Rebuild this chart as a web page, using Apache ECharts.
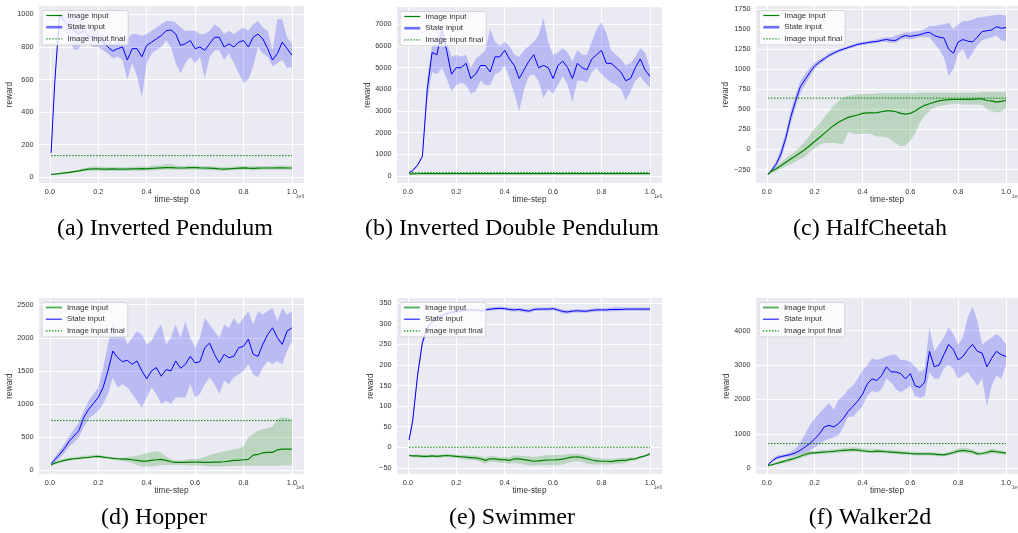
<!DOCTYPE html>
<html><head><meta charset="utf-8">
<script src="https://cdn.jsdelivr.net/npm/echarts@6/dist/echarts.min.js"></script>
<style>html,body{margin:0;padding:0;background:#fff}#c{width:1018px;height:533px}</style>
</head><body><div id="c"></div>
<script>
// time-steps (x1e6)
const T = [0.005,0.02,0.04,0.06,0.08,0.10,0.12,0.14,0.16,0.18,
 0.20,0.22,0.24,0.26,0.28,0.30,0.32,0.34,0.36,0.38,
 0.40,0.42,0.44,0.46,0.48,0.50,0.52,0.54,0.56,0.58,
 0.60,0.62,0.64,0.66,0.68,0.70,0.72,0.74,0.76,0.78,
 0.80,0.82,0.84,0.86,0.88,0.90,0.92,0.94,0.96,0.98,
 1.00];
const X_TICKS = [0, 0.2, 0.4, 0.6, 0.8, 1.0];
const TITLES = ['(a) Inverted Pendulum','(b) Inverted Double Pendulum','(c) HalfCheetah','(d) Hopper','(e) Swimmer','(f) Walker2d'];
const LEGEND_NAMES = ['Image input','State input','Image input final'];

// (a) Inverted Pendulum
const A_S = [150,580,1000,960,930,900,880,900,870,860,
 850,830,800,775,790,800,720,790,790,740,
 810,830,850,870,900,905,880,810,820,840,
 790,800,780,820,860,860,800,820,800,830,
 840,800,860,880,850,790,720,760,830,790,
 750];
const A_S_LO = [150,560,980,900,850,780,790,850,820,800,
 800,780,760,730,740,720,600,700,620,490,
 700,760,780,800,840,800,700,640,700,740,
 700,740,610,740,780,780,720,760,700,640,
 580,600,680,800,760,740,680,700,720,670,
 680];
const A_S_HI = [150,600,1000,1000,1000,1000,980,950,930,920,
 900,880,850,820,840,870,850,880,880,870,
 880,900,920,940,960,960,950,920,900,900,
 900,880,880,900,940,920,880,900,880,900,
 920,900,940,960,920,900,780,970,970,860,
 820];
const A_I = [18,20,23,27,30,35,40,46,50,52,
 52,50,50,52,50,50,50,52,52,53,
 52,55,56,58,60,60,58,57,58,60,
 60,58,57,56,55,52,50,52,54,56,
 58,56,55,56,57,57,57,58,58,57,
 57];
const A_I_LO = [15,16,18,21,24,28,32,36,38,40,
 40,38,38,40,38,38,38,40,40,40,
 40,42,44,46,48,48,47,46,46,48,
 48,46,45,44,44,42,40,42,44,45,
 46,45,44,45,46,46,46,47,47,46,
 46];
const A_I_HI = [21,24,28,33,37,42,48,56,62,66,
 66,64,62,64,62,62,62,64,66,68,
 66,70,72,76,80,78,74,70,70,72,
 72,70,68,68,66,64,62,64,66,68,
 70,68,68,68,70,70,70,72,72,70,
 70];
const A_FINAL = 133;
const A_YTICKS = [0,200,400,600,800,1000];

// (b) Inverted Double Pendulum
const B_S = [150,250,500,900,4000,5700,5600,6700,5800,4700,
 5000,5000,5200,4500,4700,5100,5100,4800,5500,5500,
 5800,5400,5100,4500,4900,5300,5600,5000,5100,5000,
 4500,5100,5300,5000,4500,5200,5000,4900,5400,5600,
 5800,5200,5200,5000,4800,4400,4500,5000,5400,4900,
 4600];
const B_S_LO = [100,200,450,850,3500,4800,4700,5000,4500,3900,
 4200,4300,4200,3800,3900,4400,4200,4200,4700,4800,
 5100,4500,3800,3000,4000,4600,4700,4400,3600,4000,
 3800,4200,4600,4200,3400,4400,4400,4300,4800,5000,
 4700,4500,4300,4200,4000,3500,3900,4400,4600,4300,
 4100];
const B_S_HI = [200,300,550,1000,4500,6000,6400,7000,6200,5500,
 5600,5500,5600,5000,5400,5600,5800,6800,6200,6000,
 6200,6000,5600,5500,5800,6000,6200,6500,7300,6200,
 5600,5700,5900,5700,5300,5800,5600,5600,6200,6800,
 7100,6600,5800,5600,5400,5100,5200,5500,5900,5700,
 5000];
const B_I = [100,102,104,106,108,108,110,110,110,108,
 110,110,112,110,110,108,110,110,112,110,
 110,110,108,110,110,110,112,110,110,108,
 110,110,110,112,110,110,110,108,110,110,
 112,110,110,110,108,110,110,110,112,110,
 110];
const B_I_LO = [80,80,82,84,85,85,86,86,86,85,
 86,86,88,86,86,85,86,86,88,86,
 86,86,85,86,86,86,88,86,86,85,
 86,86,86,88,86,86,86,85,86,86,
 88,86,86,86,85,86,86,86,88,86,
 86];
const B_I_HI = [120,125,130,135,140,140,142,142,142,140,
 142,142,144,142,142,140,142,142,144,142,
 142,142,140,142,142,142,144,142,142,140,
 142,142,142,144,142,142,142,140,142,142,
 144,142,142,142,140,142,142,142,144,142,
 142];
const B_FINAL = 155;
const B_YTICKS = [0,1000,2000,3000,4000,5000,6000,7000];

// (c) HalfCheetah
const C_S = [-310,-260,-180,-50,150,400,600,780,870,960,
 1040,1090,1130,1170,1200,1230,1250,1270,1290,1310,
 1320,1330,1340,1345,1360,1370,1360,1360,1400,1420,
 1410,1420,1430,1450,1460,1420,1400,1390,1250,1200,
 1340,1370,1350,1340,1400,1470,1480,1490,1530,1510,
 1520];
const C_S_LO = [-320,-280,-220,-110,80,320,520,700,800,900,
 1000,1060,1100,1150,1180,1210,1230,1250,1270,1290,
 1300,1310,1320,1330,1340,1340,1330,1330,1370,1380,
 1370,1390,1400,1400,1400,1320,1250,1150,920,1000,
 1200,1250,1120,1200,1300,1360,1380,1400,1420,1360,
 1350];
const C_S_HI = [-300,-240,-140,20,220,480,680,850,940,1020,
 1080,1120,1160,1200,1230,1250,1270,1290,1310,1330,
 1345,1350,1360,1370,1390,1400,1400,1420,1440,1460,
 1460,1470,1480,1500,1540,1540,1550,1560,1580,1500,
 1560,1600,1600,1620,1640,1650,1660,1670,1680,1680,
 1670];
const C_I = [-310,-270,-240,-200,-160,-120,-80,-40,0,50,
 100,150,200,250,300,340,370,400,415,430,
 450,455,455,460,470,480,480,470,450,440,
 450,480,520,550,570,590,605,615,620,625,
 625,625,625,625,630,630,610,605,590,600,
 610];
const C_I_LO = [-320,-290,-270,-240,-210,-180,-150,-120,-90,-30,
 10,60,80,80,80,70,70,220,200,190,
 200,200,190,160,160,150,120,70,40,50,
 110,200,330,420,480,520,540,550,560,570,
 570,560,560,560,560,550,500,480,460,470,
 520];
const C_I_HI = [-300,-250,-210,-160,-110,-70,-20,40,100,180,
 260,320,400,470,550,600,650,670,680,690,
 690,690,690,700,700,700,700,700,700,700,
 700,700,710,710,710,710,710,710,710,710,
 710,710,710,710,710,720,720,720,720,720,
 720];
const C_FINAL = 640;
const C_YTICKS = [-250,0,250,500,750,1000,1250,1500,1750];

// (d) Hopper
const D_S = [100,160,240,330,440,520,600,800,920,1010,
 1100,1250,1500,1800,1700,1640,1660,1600,1650,1500,
 1380,1500,1550,1420,1520,1500,1650,1540,1600,1720,
 1620,1640,1850,1920,1750,1620,1750,1700,1720,1850,
 1870,1980,1750,1720,1900,2050,2150,2000,1900,2100,
 2150];
const D_S_LO = [90,120,180,260,360,420,500,650,780,840,
 900,1000,1150,1400,1250,1300,1250,1150,1050,950,
 1100,1250,1150,1000,1050,1000,1100,1100,1100,1300,
 1100,1150,1300,1400,1300,1150,1350,1300,1400,1450,
 1500,1600,1450,1400,1550,1650,1600,1650,1600,1800,
 1950];
const D_S_HI = [110,200,300,400,520,620,730,900,1050,1150,
 1250,1550,1900,2250,2000,2100,1900,2000,2100,2050,
 1900,1950,2100,2200,1900,2000,2200,2000,2250,2000,
 1850,2000,2300,2200,2100,2000,2200,2150,2300,2200,
 2300,2400,2200,2400,2350,2400,2450,2250,2450,2350,
 2400];
const D_I = [80,110,130,150,165,175,180,190,195,205,
 210,200,190,180,175,170,170,160,150,140,
 140,150,160,165,150,130,120,120,120,125,
 125,125,120,120,125,125,130,140,150,150,
 160,165,230,240,265,270,270,310,320,320,
 320];
const D_I_LO = [70,90,110,130,145,155,165,170,180,190,
 190,180,170,160,150,140,130,110,80,60,
 60,60,70,80,80,80,80,80,80,75,
 75,75,70,60,60,60,65,65,65,70,
 70,70,70,70,70,70,70,70,75,75,
 80];
const D_I_HI = [90,130,160,175,190,200,210,220,225,235,
 230,220,210,200,195,190,200,210,220,240,
 260,280,290,270,210,170,150,150,160,170,
 170,180,200,230,250,270,290,300,320,330,
 360,500,550,600,620,640,660,770,800,790,
 780];
const D_FINAL = 750;
const D_YTICKS = [0,500,1000,1500,2000,2500];

// (e) Swimmer
const E_S = [18,65,175,255,290,305,315,320,325,328,
 330,332,333,334,334,333,334,336,337,338,
 337,335,334,335,333,331,335,336,336,336,
 337,334,330,329,331,332,331,331,333,334,
 334,334,335,335,335,336,336,336,336,336,
 336];
const E_S_LO = [15,55,165,245,283,299,310,316,321,324,
 326,328,329,330,330,329,330,332,333,334,
 333,331,330,331,328,327,331,332,332,332,
 333,330,325,325,327,328,327,327,329,330,
 330,330,331,331,331,332,332,332,332,332,
 332];
const E_S_HI = [21,75,185,265,297,311,320,324,329,332,
 334,336,337,338,338,337,338,340,341,342,
 341,339,338,339,337,335,339,340,340,340,
 341,338,335,333,335,336,335,335,337,338,
 338,338,339,341,341,340,340,340,340,340,
 340];
const E_I = [-20,-21,-21,-22,-22,-21,-22,-21,-20,-21,
 -22,-23,-24,-25,-26,-28,-32,-28,-28,-30,
 -30,-32,-28,-28,-30,-32,-34,-33,-32,-31,
 -31,-30,-29,-26,-24,-23,-25,-28,-31,-33,
 -34,-34,-35,-33,-32,-32,-29,-28,-24,-21,
 -16];
const E_I_LO = [-22,-24,-25,-26,-26,-25,-26,-25,-24,-25,
 -27,-28,-30,-31,-32,-35,-40,-36,-36,-38,
 -38,-40,-38,-40,-42,-44,-45,-44,-44,-43,
 -44,-44,-42,-38,-35,-34,-36,-40,-42,-42,
 -42,-42,-42,-40,-40,-38,-34,-32,-27,-23,
 -18];
const E_I_HI = [-18,-18,-17,-18,-18,-17,-18,-17,-16,-17,
 -18,-19,-19,-20,-20,-22,-25,-22,-22,-24,
 -23,-24,-20,-20,-21,-22,-24,-22,-20,-19,
 -19,-19,-18,-17,-16,-16,-18,-20,-24,-26,
 -27,-28,-28,-27,-26,-26,-24,-24,-21,-19,
 -14];
const E_FINAL = 0;
const E_YTICKS = [-50,0,50,100,150,200,250,300,350];

// (f) Walker2d
const F_S = [100,200,300,340,370,400,450,520,620,720,
 850,1000,1200,1250,1200,1300,1450,1650,1800,1950,
 2150,2450,2600,2550,2700,2950,2800,2800,2750,2600,
 2750,2400,2350,2500,3400,2950,3000,3300,3600,3450,
 3150,3250,3450,3600,3400,3350,2950,3200,3400,3300,
 3250];
const F_S_LO = [90,150,250,290,320,340,370,400,450,520,
 600,700,800,850,900,950,1200,1500,1500,1650,
 1800,2100,2250,2200,2300,2600,2500,2300,2200,2300,
 2400,2100,2050,2100,2800,2600,2600,2900,3000,2900,
 2600,2700,2800,2600,2400,2600,1800,2400,2700,2600,
 3000];
const F_S_HI = [110,250,360,400,420,480,560,750,1000,1250,
 1450,1600,1750,1900,1700,2000,2100,2300,2400,2600,
 2850,3000,3200,3150,3200,3250,3300,3300,3150,3150,
 3100,2950,2800,2900,4100,3400,3600,3800,4100,3900,
 3600,3800,4400,4700,4300,3600,3700,3800,3900,3800,
 3600];
const F_I = [80,100,140,180,220,260,300,350,400,440,
 450,460,470,480,490,510,520,530,540,530,
 510,490,480,500,490,480,470,460,450,440,
 430,420,420,420,420,410,400,390,420,460,
 500,520,500,480,420,430,460,500,480,460,
 440];
const F_I_LO = [70,80,100,130,160,200,240,290,340,380,
 400,410,420,430,440,450,460,470,480,470,
 460,450,440,440,440,430,420,410,400,390,
 380,370,370,370,370,360,350,350,370,400,
 430,450,430,410,370,380,400,430,420,400,
 400];
const F_I_HI = [90,120,180,230,280,320,370,410,460,500,
 510,520,530,540,550,570,590,600,610,600,
 580,560,550,560,550,540,530,520,510,500,
 490,480,470,470,470,460,450,440,470,520,
 580,600,580,550,480,480,520,570,540,520,
 480];
const F_FINAL = 720;
const F_YTICKS = [0,1000,2000,3000,4000];

// ---------- assembly ----------
const PANELS = [
  {s:A_S, sl:A_S_LO, sh:A_S_HI, i:A_I, il:A_I_LO, ih:A_I_HI, f:A_FINAL, yt:A_YTICKS},
  {s:B_S, sl:B_S_LO, sh:B_S_HI, i:B_I, il:B_I_LO, ih:B_I_HI, f:B_FINAL, yt:B_YTICKS},
  {s:C_S, sl:C_S_LO, sh:C_S_HI, i:C_I, il:C_I_LO, ih:C_I_HI, f:C_FINAL, yt:C_YTICKS},
  {s:D_S, sl:D_S_LO, sh:D_S_HI, i:D_I, il:D_I_LO, ih:D_I_HI, f:D_FINAL, yt:D_YTICKS},
  {s:E_S, sl:E_S_LO, sh:E_S_HI, i:E_I, il:E_I_LO, ih:E_I_HI, f:E_FINAL, yt:E_YTICKS},
  {s:F_S, sl:F_S_LO, sh:F_S_HI, i:F_I, il:F_I_LO, ih:F_I_HI, f:F_FINAL, yt:F_YTICKS}
];
const LAYOUT = [
  {left:39,  top:6,   width:265, height:177, cx:165, cy:229, ymin:-35,  ymax:1052},
  {left:397, top:7,   width:265, height:176, cx:512, cy:229, ymin:-323, ymax:7800},
  {left:756, top:6,   width:264, height:177, cx:870, cy:229, ymin:-418, ymax:1788},
  {left:39,  top:298, width:265, height:176, cx:154, cy:518, ymin:-55,  ymax:2600},
  {left:397, top:298, width:265, height:176, cx:512, cy:518, ymin:-65,  ymax:363},
  {left:756, top:298, width:264, height:176, cx:870, cy:518, ymin:-166, ymax:4950}
];
const SANS = 'Liberation Sans, Arial, sans-serif';
const TXT = '#333';
const GREEN = '#008000';
const BLUE = '#0000ff';

const grids=[], xAxes=[], yAxes=[], series=[], legends=[], graphics=[];

function bandSeries(idx, lo, hi, color){
  return {
    type:'custom', xAxisIndex:idx, yAxisIndex:idx, silent:true, z:1,
    data: T.map((t,k)=>[t, lo[k], hi[k]]),
    encode:{x:0, y:[1,2]},
    renderItem:function(params, api){
      if (params.dataIndex !== 0) return null;
      const n = T.length, up=[], dn=[];
      for (let k=0;k<n;k++){
        const x = api.value(0,k);
        up.push(api.coord([x, api.value(2,k)]));
        dn.push(api.coord([x, api.value(1,k)]));
      }
      return {type:'polygon', shape:{points: up.concat(dn.reverse())}, style:{fill:color, stroke:null}};
    },
    clip:true
  };
}

const HIDE_SYMBOL = {color:'rgba(0,0,0,0)', borderColor:'rgba(0,0,0,0)', borderWidth:0};

PANELS.forEach((p, idx)=>{
  const L = LAYOUT[idx];
  grids.push({left:L.left, top:L.top, width:L.width, height:L.height, show:true,
    backgroundColor:'#EAEAF2', borderWidth:0, containLabel:false});
  xAxes.push({gridIndex:idx, type:'value', min:-0.045, max:1.05,
    axisLine:{show:false}, axisTick:{show:false, customValues:X_TICKS},
    axisLabel:{customValues:X_TICKS, formatter:v=>v.toFixed(1), fontSize:7.3, color:TXT, fontFamily:SANS, margin:5},
    splitLine:{show:true, lineStyle:{color:'#ffffff', width:1}},
    name:'time-step', nameLocation:'middle', nameGap:12,
    nameTextStyle:{fontSize:8.3, color:TXT, fontFamily:SANS}});
  yAxes.push({gridIndex:idx, type:'value', min:L.ymin, max:L.ymax,
    axisLine:{show:false}, axisTick:{show:false, customValues:p.yt},
    axisLabel:{customValues:p.yt, formatter:v=>String(v).replace('-', '\u2212'), fontSize:7.3, color:TXT, fontFamily:SANS, margin:5.5},
    splitLine:{show:true, lineStyle:{color:'#ffffff', width:1}},
    name:'reward', nameLocation:'middle', nameGap:22,
    nameTextStyle:{fontSize:8.3, color:TXT, fontFamily:SANS}});

  series.push(bandSeries(idx, p.sl, p.sh, 'rgba(0,0,255,0.2)'));
  series.push(bandSeries(idx, p.il, p.ih, 'rgba(0,128,0,0.2)'));
  series.push({type:'line', name:'State input', xAxisIndex:idx, yAxisIndex:idx, z:3,
    data:T.map((t,k)=>[t, p.s[k]]), symbol:'none', showSymbol:false,
    lineStyle:{color:BLUE, width:1}, itemStyle:{color:BLUE}});
  series.push({type:'line', name:'Image input', xAxisIndex:idx, yAxisIndex:idx, z:4,
    data:T.map((t,k)=>[t, p.i[k]]), symbol:'none', showSymbol:false,
    lineStyle:{color:GREEN, width:1.2}, itemStyle:{color:GREEN}});
  series.push({type:'line', name:'Image input final', xAxisIndex:idx, yAxisIndex:idx, z:5,
    data:[[T[0], p.f],[T[T.length-1], p.f]], symbol:'none', showSymbol:false,
    lineStyle:{color:GREEN, width:1, type:[1.5,1.5]}, itemStyle:{color:GREEN}});

  const top = idx < 3;
  legends.push({
    show:true, orient:'vertical', left:L.left+3, top:L.top+4.5, selectedMode:false, z:10,
    backgroundColor:'rgba(255,255,255,0.8)', borderColor:'#d4d4d4', borderWidth:1, borderRadius:2,
    padding:[1,3,2,3], itemWidth:16, itemHeight:8, itemGap:3.7,
    itemStyle:HIDE_SYMBOL,
    textStyle:{fontSize:7.9, color:TXT, fontFamily:SANS},
    data:[
      {name:LEGEND_NAMES[0], itemStyle:HIDE_SYMBOL, lineStyle:{color: top ? GREEN : '#4caf50', width: top ? 1.2 : 1.8}},
      {name:LEGEND_NAMES[1], itemStyle:HIDE_SYMBOL, lineStyle:{color: top ? '#6b6bff' : BLUE, width: top ? 2.6 : 1}},
      {name:LEGEND_NAMES[2], itemStyle:HIDE_SYMBOL, lineStyle:{color: top ? GREEN : '#4caf50', width: top ? 1 : 1.8, type:[1.5,1.5]}}
    ]
  });

  graphics.push({type:'text', x:L.left+L.width-4, y:L.top+L.height+14,
    style:{text:'1e6', fontSize:5, fill:'#555', fontFamily:SANS, textAlign:'center', textVerticalAlign:'middle'}});
  graphics.push({type:'text', x:L.cx, y:L.cy,
    style:{text:TITLES[idx], fontSize:24, fill:'#000', fontFamily:'Liberation Serif, Times New Roman, serif',
      textAlign:'center', textVerticalAlign:'middle'}});
});

const chart = echarts.init(document.getElementById('c'), null, {renderer:'canvas'});
chart.setOption({
  animation:false,
  backgroundColor:'#ffffff',
  grid:grids, xAxis:xAxes, yAxis:yAxes, series:series, legend:legends, graphic:graphics
});
</script>
</body></html>
